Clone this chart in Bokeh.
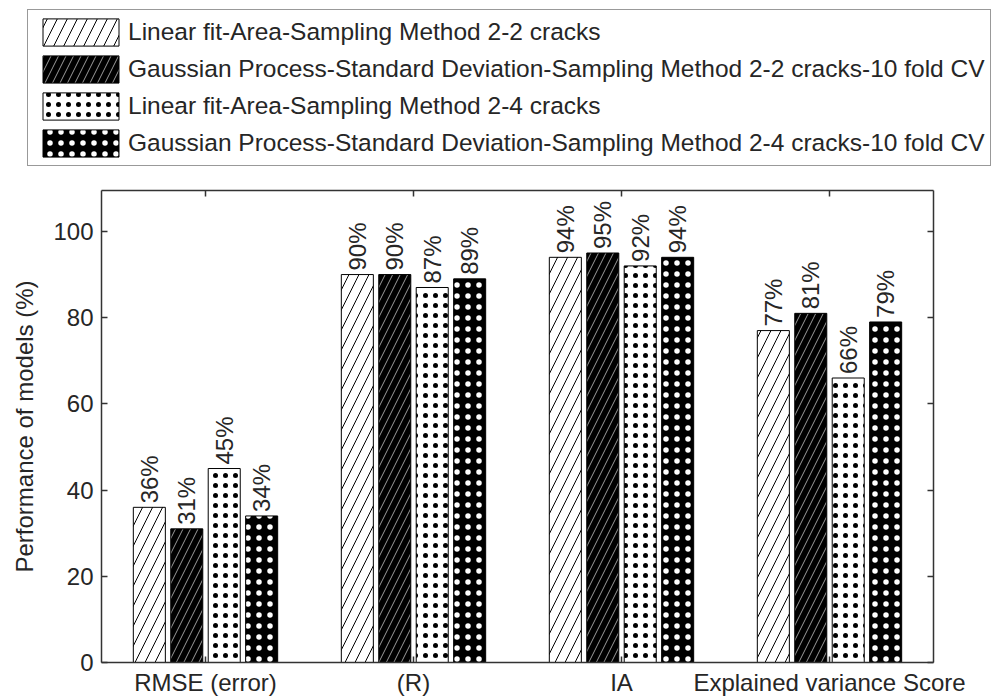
import math
from bokeh.plotting import figure
from bokeh.models import (FactorRange, Range1d, ColumnDataSource, Legend, LegendItem,
                          LinearAxis, CategoricalAxis, FixedTicker, Column)
from bokeh.transform import dodge
from bokeh.core.properties import value
from bokeh.embed import file_html
from bokeh.resources import INLINE

# ---- data ----
categories = ["RMSE (error)", "(R)", "IA", "Explained variance Score"]
series_names = [
    "Linear fit-Area-Sampling Method 2-2 cracks",
    "Gaussian Process-Standard Deviation-Sampling Method 2-2 cracks-10 fold CV",
    "Linear fit-Area-Sampling Method 2-4 cracks",
    "Gaussian Process-Standard Deviation-Sampling Method 2-4 cracks-10 fold CV",
]
linear_2_2 = [36, 90, 94, 77]
gp_2_2 = [31, 90, 95, 81]
linear_2_4 = [45, 87, 92, 66]
gp_2_4 = [34, 89, 94, 79]
y_ticks = [0, 20, 40, 60, 80, 100]

series_values = [linear_2_2, gp_2_2, linear_2_4, gp_2_4]

FONT = "Liberation Sans"
TXT = "#262626"
AX = "#333333"

LEG_H = 180

p = figure(width=992, height=518, output_backend="svg", toolbar_location=None,
           x_range=FactorRange(*categories, range_padding=0),
           y_range=Range1d(0, 109.5),
           min_border_left=101, min_border_right=59, min_border_top=10, min_border_bottom=36)
p.outline_line_color = None
p.xgrid.grid_line_color = None
p.ygrid.grid_line_color = None

offsets = [-0.27, -0.09, 0.09, 0.27]
styles = [
    dict(fill_color="white", hatch_pattern="/", hatch_color="black", hatch_scale=20, hatch_weight=1),
    dict(fill_color="black", hatch_pattern="/", hatch_color="#9a9a9a", hatch_scale=15, hatch_weight=1),
    dict(fill_color="white", hatch_pattern=".", hatch_color="black", hatch_scale=10, hatch_weight=4.5),
    dict(fill_color="black", hatch_pattern=".", hatch_color="white", hatch_scale=11, hatch_weight=5),
]

for vals, off, st in zip(series_values, offsets, styles):
    src = ColumnDataSource(dict(cat=categories, val=vals, lbl=[f"{v}%" for v in vals]))
    p.vbar(x=dodge("cat", off, range=p.x_range), top="val", bottom=0, width=0.154,
           source=src, line_color="black", line_width=1, **st)
    p.text(x=dodge("cat", off, range=p.x_range), y="val", text="lbl", source=src,
           angle=math.pi / 2, text_align="left", text_baseline="middle", y_offset=-4,
           text_font=value(FONT), text_font_size="24px", text_color=TXT)

# axes
def style_axis(ax):
    ax.axis_line_color = AX
    ax.axis_line_width = 1.5
    ax.major_tick_line_color = AX
    ax.major_tick_line_width = 1.5
    ax.major_tick_in = 6
    ax.major_tick_out = 0
    ax.minor_tick_line_color = None
    ax.major_label_text_font = FONT
    ax.major_label_text_font_size = "24px"
    ax.major_label_text_color = TXT

xa = p.xaxis[0]
style_axis(xa)
xa.major_label_standoff = 6

ya = p.yaxis[0]
style_axis(ya)
ya.ticker = FixedTicker(ticks=y_ticks)
ya.major_label_standoff = 8
ya.axis_label = "Performance of models (%)"
ya.axis_label_text_font = FONT
ya.axis_label_text_font_size = "24px"
ya.axis_label_text_font_style = "normal"
ya.axis_label_text_color = TXT
ya.axis_label_standoff = 12

top = CategoricalAxis()
style_axis(top)
top.major_label_text_font_size = "0px"
top.major_label_standoff = 0
p.add_layout(top, "above")

right = LinearAxis(ticker=FixedTicker(ticks=y_ticks))
style_axis(right)
right.major_label_text_font_size = "0px"
right.major_label_standoff = 0
p.add_layout(right, "right")

# ---- legend panel (own small figure above the chart) ----
lg = figure(width=992, height=LEG_H, output_backend="svg", toolbar_location=None,
            x_range=Range1d(0, 1), y_range=Range1d(1, 2),
            x_axis_location=None, y_axis_location=None,
            min_border_left=0, min_border_right=0, min_border_top=0, min_border_bottom=0)
lg.outline_line_color = None
lg.xgrid.grid_line_color = None
lg.ygrid.grid_line_color = None

leg_renderers = []
for st in styles:
    # zero-height placeholder below the visible range; only its style feeds the legend swatch
    r = lg.vbar(x=[0.5], top=[0], bottom=[0], width=0.1, line_color="black", line_width=1, **st)
    leg_renderers.append(r)

legend = Legend(items=[LegendItem(label=n, renderers=[r]) for n, r in zip(series_names, leg_renderers)],
                location=(27, LEG_H - 11 - 155), orientation="vertical",
                glyph_width=95, glyph_height=34, label_height=34, spacing=3,
                padding=5, margin=0, label_standoff=0,
                label_text_font=FONT, label_text_font_size="24.5px", label_text_color=TXT,
                border_line_color=AX, border_line_width=1.5, background_fill_alpha=1)
lg.add_layout(legend)

layout = Column(children=[Column(children=[lg]), Column(children=[p])], spacing=0)
open("out.html", "w").write(file_html(layout, INLINE))
